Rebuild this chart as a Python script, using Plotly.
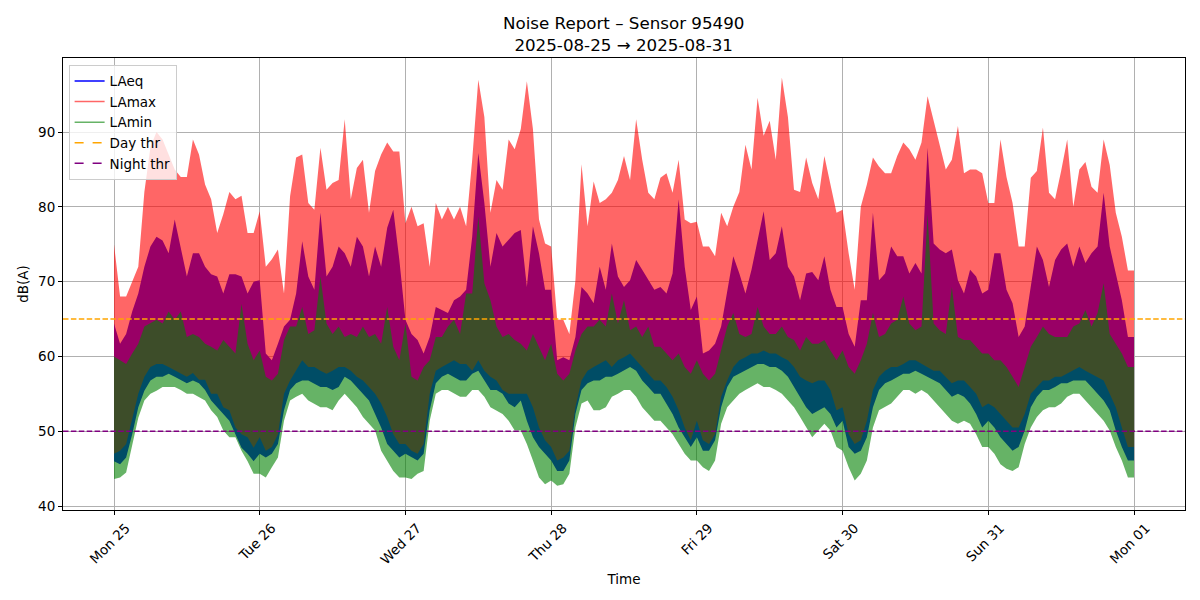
import pandas as pd
import plotly.graph_objects as go

# hourly envelopes (dB(A)), one row per day Mon 25 .. Sun 31
laeq_hi = [
    64.4, 61.7, 63, 66, 68.4, 72, 74.7, 76, 75.5, 73.8, 78.3, 74.7, 70.7, 73.8, 73.8, 72, 71, 70.7, 68.4, 71, 71, 70.7, 68.4, 70,
    70.2, 60.4, 59.5, 61.7, 64, 64.9, 68.4, 75.4, 70.7, 68.9, 79.2, 70.7, 72, 74.7, 73.8, 72, 76, 74.7, 70.7, 74.7, 72, 77.2, 79.6, 72.9,
    64.9, 63, 62.2, 60.4, 62.6, 66.6, 66.2, 65.8, 67.5, 68, 68.9, 76, 87.2, 80.5, 72, 76.5, 74.7, 75.6, 76.5, 76.9, 69.3, 77.4, 73.8, 68.9,
    68.9, 59.5, 59.9, 59.5, 62.6, 69.3, 68.4, 67.1, 72, 68.9, 75.1, 70.7, 69.3, 70.2, 72.9, 71.6, 70.2, 68.9, 69.3, 68.4, 71.1, 81, 72, 66.2,
    68, 60.4, 60.8, 61.7, 64, 68.9, 73.4, 71.1, 68.4, 71.6, 75.6, 79.4, 72.9, 73.8, 77.4, 72, 70.7, 67.5, 71.1, 71.3, 70.2, 73.4, 68.9, 66.6,
    66.6, 63, 61.3, 67.5, 67.5, 79.2, 70.2, 71.1, 74.7, 73.4, 73.4, 71.1, 72.5, 71.1, 87.9, 75.1, 74.3, 73.8, 74.3, 70.2, 68.4, 71.6, 70.7, 68.4,
    68.9, 73.8, 73.8, 68.9, 67.1, 62.6, 64, 69.3, 74.7, 72.9, 69.3, 72.9, 74.3, 75.1, 72, 74.7, 72.5, 73.8, 74.7, 81.9, 74.7, 71.1, 67.5, 62.6,
]
laeq_lo = [
    46, 45.6, 46.5, 49.6, 53.2, 55.4, 56.8, 57.3, 57.3, 57.7, 57.3, 56.8, 56.4, 56.8, 56.4, 55.5, 54.1, 53.2, 52.3, 51.4, 49.6, 47.8, 47, 46,
    47, 46.5, 47, 48.3, 52.8, 55.5, 56.4, 56.8, 56.8, 56.4, 55.9, 55.9, 55.5, 55.9, 57.3, 56.8, 55.9, 55, 54.1, 52.3, 50.5, 48.3, 47.4, 46.5,
    47, 46.5, 46.1, 47, 52.8, 56.4, 57.3, 57.7, 57.3, 56.8, 56.8, 57.7, 58.1, 56.8, 55.5, 55.5, 55, 53.7, 53.2, 54.1, 51.4, 49.2, 47.9, 47,
    46.1, 44.7, 44.7, 46.1, 52.3, 55.5, 56.4, 56.8, 56.8, 57.3, 57.3, 57.7, 58.1, 58.6, 58.1, 56.8, 55.9, 55, 55, 53.7, 52.3, 50.5, 49.2, 47.9,
    49.2, 47.4, 47.4, 48.8, 53.2, 55.9, 57.3, 57.7, 58.1, 58.6, 59, 59, 58.6, 58.6, 58.1, 57.3, 55.9, 54.6, 53.2, 52.3, 52.8, 53.2, 52.3, 50.5,
    51.4, 47.9, 47, 47.4, 49.2, 53.2, 55.5, 56.4, 56.8, 57.3, 57.7, 57.7, 58.1, 57.7, 57.3, 56.8, 56.4, 55.5, 54.6, 55, 54.6, 53.7, 52.3, 50.5,
    51.4, 50.5, 49.2, 48.3, 47.4, 47.9, 50.1, 53.2, 54.6, 55.5, 55.5, 55.9, 56.4, 56.4, 56.8, 56.8, 56.8, 55.9, 55, 54.1, 52.8, 50.1, 47.9, 46.1,
]
lamax_hi = [
    75, 68, 68, 70, 72, 82, 88, 90, 89, 87, 85, 84, 84, 89, 87, 83, 81, 76.5, 79, 82, 81, 81.5, 76.5, 76.5,
    79.4, 72, 73, 74.3, 68.4, 81.4, 86.6, 87, 80.5, 79.6, 87.9, 82.3, 83.2, 83.6, 91.7, 81, 85.2, 86.3, 79.2, 84.8, 87, 88.6, 87.4, 87.4,
    77.8, 80, 77.4, 77.8, 72, 80.5, 78.3, 80, 78.3, 80, 77.4, 86.3, 97, 92, 79.2, 83.6, 82.3, 89, 87.7, 90.4, 96.8, 90.4, 78.3, 75.1,
    74.7, 64.9, 64.9, 63, 70.2, 85.7, 77.4, 83.4, 80.5, 81, 81.9, 83.6, 86.8, 83.6, 91.7, 86.3, 81.9, 81, 83.9, 84.5, 81.9, 86.3, 78.3, 77.8,
    78, 74.7, 74.7, 73.4, 79.2, 77.4, 80, 82, 88.3, 85, 94.6, 89.5, 91.5, 86.3, 97.3, 92, 82.3, 82, 86.6, 83.2, 81, 86.8, 83.2, 79.2,
    79.6, 73.8, 68.9, 80, 83, 86.6, 85.4, 84.5, 84.5, 86.8, 88.6, 87.7, 86.3, 88.6, 94.8, 91.5, 88.1, 85, 86.3, 90.8, 84.5, 85, 85, 84.5,
    80.5, 80.5, 89, 84, 80.5, 74.7, 74.7, 83.9, 84.8, 90.6, 81.9, 81, 84.8, 89, 80, 85, 86, 82.7, 81.9, 89, 85.6, 79.2, 76, 71.5,
]
lamax_lo = [
    47, 47.4, 48.3, 51.5, 55, 57.3, 58.6, 59, 59, 58.6, 58.2, 57.8, 57.3, 57.8, 56.9, 56.9, 55, 55, 53.2, 52.8, 50.5, 49.6, 49.2, 47.8,
    49.2, 47.4, 47.9, 49.6, 55, 56.8, 58.1, 59.5, 58.6, 58.6, 58.1, 57.7, 58.1, 58.6, 58.6, 58.1, 57.3, 56.8, 55.9, 55, 53.7, 51.9, 49.6, 48.3,
    48.3, 47.4, 47, 48.3, 55, 58.1, 58.6, 59, 59.5, 59, 59, 58.1, 59.5, 58.1, 57.3, 56.8, 55.5, 55, 55, 55, 55, 53.2, 50.5, 48.8,
    47.9, 46.1, 46.5, 47.4, 53.2, 56.8, 58.1, 58.6, 59, 59.5, 58.6, 59.5, 59.9, 60.4, 59.5, 58.6, 57.7, 56.8, 56.8, 55.9, 54.6, 52.8, 50.5, 48.8,
    51.4, 48.8, 48.3, 49.6, 54.6, 56.8, 58.6, 59.5, 59.9, 60.4, 60.4, 60.8, 60.4, 60.4, 59.9, 59.5, 58.6, 57.3, 56.8, 56.4, 56.8, 56.8, 55.5, 52.8,
    53.2, 49.6, 48.3, 48.8, 51.4, 55.5, 57.3, 58.1, 58.6, 58.6, 59, 59.5, 59.5, 59, 58.6, 58.1, 58.1, 57.3, 56.4, 56.8, 56.8, 55.9, 55, 53.2,
    53.7, 53.2, 52.3, 51.4, 50.5, 50.5, 52.3, 55, 55.9, 56.8, 56.8, 57.3, 57.3, 57.7, 58.1, 58.6, 58.1, 57.7, 57.3, 56.8, 55, 53.2, 50.5, 47.9,
]
lamin_hi = [
    60, 59.5, 59, 60.4, 61.7, 64, 64.4, 64.9, 64.4, 66, 64.9, 66, 62.6, 63, 62.6, 61.7, 61.3, 60.8, 62.2, 61.3, 60.4, 67, 61.7, 59.5,
    60.8, 57.3, 56.8, 57.7, 62.2, 64, 64, 66.6, 63, 63.5, 70.7, 64.4, 63, 64, 62.6, 63, 62.6, 64, 62.6, 63, 61.7, 66.6, 61.3, 59.5,
    64.4, 57.3, 56.8, 58.6, 59.5, 62.6, 62.6, 64, 64.9, 63, 68.4, 68.4, 78.7, 69.8, 67.5, 64, 62.6, 63, 62.2, 61.7, 60.8, 63, 61.3, 59.5,
    61.7, 57.7, 56.8, 57.7, 60.8, 63, 64, 64, 64.9, 64, 68.4, 64.4, 67.5, 63.5, 64, 62.6, 64, 61.3, 61.3, 60.4, 59.5, 60.4, 58.6, 57.7,
    59.5, 57.7, 56.8, 57.7, 60.8, 64, 65.8, 63, 62.6, 63, 66.6, 64, 63, 63, 64, 62.6, 62.2, 60.8, 62.6, 61.7, 61.7, 62.2, 60.8, 59.5,
    60.8, 58.6, 57.7, 59.5, 61.7, 65.8, 62.6, 63, 64.4, 64.9, 68, 64.4, 63.5, 64, 79, 64.4, 63.5, 63, 69.3, 62.6, 62.2, 62.2, 61.3, 60.4,
    60.4, 59.5, 59.5, 58.6, 57.3, 55.9, 58.6, 61.3, 62.6, 64, 63, 62.6, 62.6, 62.6, 64, 64.4, 66.2, 64, 65.8, 69.8, 63, 61.7, 60.4, 58.6,
]
lamin_lo = [
    43.6, 43.8, 44.5, 48.3, 51.8, 54.1, 55, 55.4, 55.9, 55.9, 55.9, 55.5, 55, 55, 54.6, 54.1, 52.8, 51.9, 50.1, 49.2, 49.2, 47.4, 46, 44.3,
    44.3, 43.8, 45.2, 46.5, 51.4, 54.1, 54.6, 55, 54.1, 53.7, 53.2, 53.2, 52.8, 54.1, 55, 54.1, 53.2, 51.9, 51, 50.1, 47.4, 46.1, 44.7, 43.8,
    43.8, 43.6, 44.3, 44.7, 51.4, 55, 55.5, 55.5, 55, 54.6, 54.6, 55.5, 55.5, 54.6, 53.2, 52.8, 52.3, 51.4, 50.1, 50.1, 48.3, 46.1, 43.8, 42.9,
    43.4, 42.7, 42.9, 44.3, 50.5, 53.7, 54.1, 52.8, 52.8, 53.2, 54.6, 55, 55.5, 55.5, 54.6, 53.2, 52.3, 51.4, 51.4, 50.5, 49.6, 48.3, 47, 46.1,
    46.1, 45.2, 44.7, 46.1, 51, 53.2, 54.1, 55, 55.5, 55.9, 56.4, 55.9, 55.9, 55.5, 55, 54.1, 53.2, 51.9, 50.5, 49.2, 50.1, 51, 50.1, 47.9,
    47.4, 45.2, 43.4, 44.3, 46.1, 50.5, 52.8, 53.2, 53.7, 54.6, 55.5, 55.5, 55, 55.5, 55, 54.1, 53.2, 52.3, 51.4, 51, 51.4, 51, 49.6, 47.9,
    47.9, 47, 45.6, 45, 44.7, 45.2, 48.3, 50.5, 51.9, 52.8, 53.2, 53.2, 53.7, 54.6, 55, 55, 54.1, 53.2, 52.3, 51.4, 50.1, 47.9, 46.1, 43.8,
]

day_thr = 65
night_thr = 50

for s in [laeq_hi, laeq_lo, lamax_hi, lamax_lo, lamin_hi, lamin_lo]:
    assert len(s) == 168, len(s)

# one extra edge so the last hour is closed at Mon 01 00:00
times = pd.date_range("2025-08-25 00:00", periods=169, freq="h")
days = pd.date_range("2025-08-25", "2025-09-01", freq="D")

fig = go.Figure()


def band(lo, hi, color):
    fig.add_trace(go.Scatter(x=times, y=lo + lo[-1:], mode="lines",
                             line=dict(width=0),
                             showlegend=False, hoverinfo="skip"))
    fig.add_trace(go.Scatter(x=times, y=hi + hi[-1:], mode="lines",
                             line=dict(width=0),
                             fill="tonexty", fillcolor=color,
                             showlegend=False, hoverinfo="skip"))


band(laeq_lo, laeq_hi, "rgb(0,0,255)")
band(lamax_lo, lamax_hi, "rgba(255,0,0,0.6)")
band(lamin_lo, lamin_hi, "rgba(0,128,0,0.6)")

fig.add_hline(y=day_thr, line=dict(color="orange", width=1.5, dash="5.5px,2.4px"))
fig.add_hline(y=night_thr, line=dict(color="purple", width=1.5, dash="5.5px,2.4px"))

# legend entries (line samples like matplotlib)
legend_items = [
    ("LAeq", "blue", "solid"),
    ("LAmax", "rgba(255,0,0,0.6)", "solid"),
    ("LAmin", "rgba(0,128,0,0.6)", "solid"),
    ("Day thr", "orange", "dash"),
    ("Night thr", "purple", "dash"),
]
for name, col, dash in legend_items:
    fig.add_trace(go.Scatter(x=[None], y=[None], mode="lines", name=name,
                             line=dict(color=col, width=1.5, dash=dash)))

# page body has an 8px margin, so the figure is a bit smaller than the window
fig.update_layout(
    width=1184, height=584,
    font=dict(family="DejaVu Sans", size=13.5, color="black"),
    paper_bgcolor="white", plot_bgcolor="white",
    margin=dict(l=55, r=7, t=50, b=82),
    title=dict(text="Noise Report – Sensor 95490<br>2025-08-25 → 2025-08-31",
               x=0.52, xanchor="center", yref="container", y=0.964, yanchor="middle",
               font=dict(size=16.7)),
    legend=dict(x=0.005, y=0.985, xanchor="left", yanchor="top", traceorder="normal",
                bgcolor="rgba(255,255,255,0.8)", bordercolor="#cccccc", borderwidth=1,
                font=dict(size=13.5), tracegroupgap=0, itemwidth=30),
)
fig.update_xaxes(
    range=["2025-08-24 15:36", "2025-09-01 08:24"], automargin=False,
    tickvals=days, ticktext=[d.strftime("%a %d") for d in days], tickangle=-45,
    ticklabelshift=12,
    showgrid=True, gridcolor="#b0b0b0", gridwidth=0.8,
    showline=True, linecolor="black", linewidth=1, mirror=True,
    ticks="outside", ticklen=4, tickcolor="black",
    title=dict(text="Time", standoff=8, font=dict(size=13.5)), zeroline=False,
)
fig.update_yaxes(
    range=[39.47, 99.9], tickvals=[40, 50, 60, 70, 80, 90], automargin=False,
    showgrid=True, gridcolor="#b0b0b0", gridwidth=0.8,
    showline=True, linecolor="black", linewidth=1, mirror=True,
    ticks="outside", ticklen=4, tickcolor="black",
    title=dict(text="dB(A)", standoff=6, font=dict(size=13.5)), zeroline=False,
)

fig.write_html("out.html")
